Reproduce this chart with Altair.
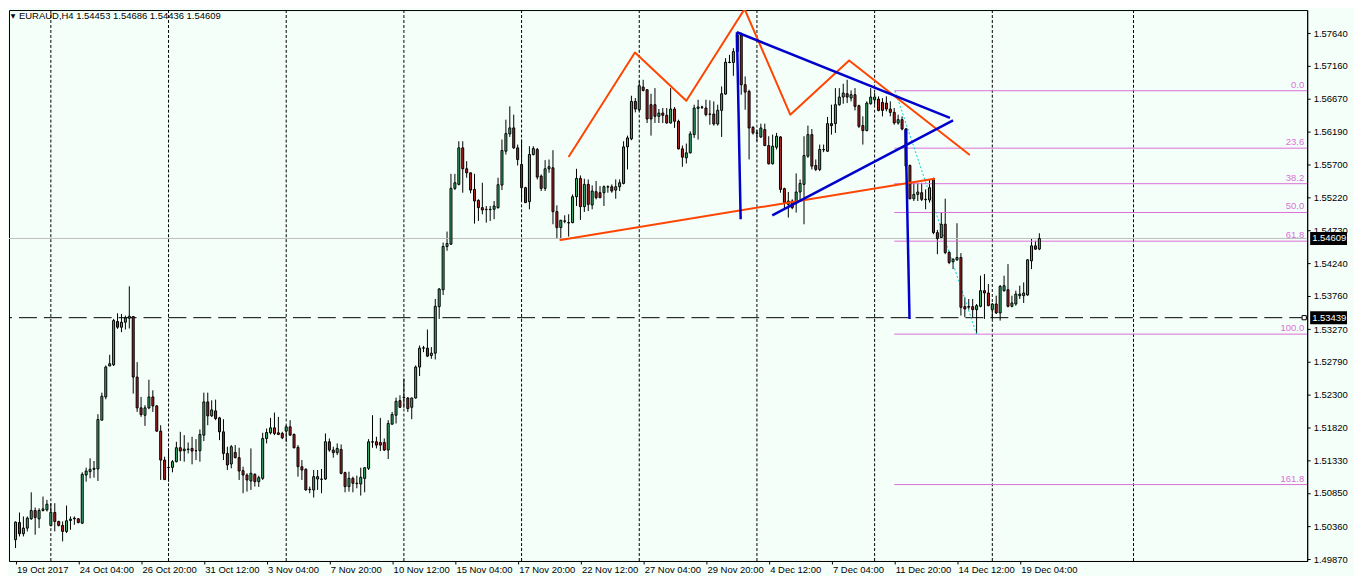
import json
import altair as alt
import pandas as pd

# ---------------- data ----------------
symbol_title = "EURAUD,H4  1.54453 1.54686 1.54436 1.54609"

opens = [
    1.50160, 1.50414, 1.50248, 1.50331, 1.50468, 1.50591, 1.50468, 1.50591, 1.50600, 1.50370,
    1.50561, 1.50429, 1.50370, 1.50282, 1.50444, 1.50468, 1.50468, 1.50404, 1.51115, 1.51164,
    1.51199, 1.51204, 1.51925, 1.52268, 1.52725, 1.52744, 1.53382, 1.53298, 1.53372, 1.53431,
    1.53455, 1.52562, 1.52107, 1.51998, 1.52107, 1.52268, 1.52136, 1.51763, 1.51336, 1.51223,
    1.51228, 1.51312, 1.51518, 1.51474, 1.51498, 1.51508, 1.51474, 1.51474, 1.51704, 1.52195,
    1.51989, 1.52062, 1.51959, 1.51753, 1.51434, 1.51278, 1.51449, 1.51371, 1.51179, 1.51115,
    1.51027, 1.51125, 1.51017, 1.51066, 1.51655, 1.51739, 1.51812, 1.51739, 1.51729, 1.51763,
    1.51827, 1.51714, 1.51523, 1.51238, 1.51199, 1.50904, 1.50895, 1.51056, 1.51056, 1.51056,
    1.51606, 1.51484, 1.51445, 1.51493, 1.51150, 1.50944, 1.51066, 1.50993, 1.50983, 1.51066,
    1.51214, 1.51606, 1.51606, 1.51596, 1.51596, 1.51484, 1.51866, 1.51998, 1.52214, 1.52258,
    1.52253, 1.52116, 1.52253, 1.52710, 1.52989, 1.52989, 1.52881, 1.52915, 1.53602, 1.53852,
    1.54490, 1.54525, 1.55349, 1.55408, 1.55947, 1.55638, 1.55579, 1.55334, 1.55172, 1.55064,
    1.55040, 1.55040, 1.55040, 1.55064, 1.55398, 1.55898, 1.56153, 1.56242, 1.55947, 1.55702,
    1.55359, 1.55153, 1.55849, 1.55923, 1.55530, 1.55349, 1.55638, 1.55653, 1.55005, 1.54770,
    1.54868, 1.54843, 1.54843, 1.55226, 1.55496, 1.55079, 1.55408, 1.55104, 1.55300, 1.55285,
    1.55285, 1.55373, 1.55373, 1.55324, 1.55373, 1.55422, 1.55962, 1.56080, 1.56634, 1.56511,
    1.56845, 1.56806, 1.56585, 1.56585, 1.56413, 1.56462, 1.56428, 1.56315, 1.56521, 1.56340,
    1.55933, 1.55800, 1.55874, 1.56143, 1.56531, 1.56551, 1.56536, 1.56447, 1.56447, 1.56300,
    1.56502, 1.56742, 1.57213, 1.57208, 1.57370, 1.57615, 1.56880, 1.56781, 1.56251, 1.56168,
    1.56109, 1.56217, 1.55982, 1.55712, 1.55957, 1.56109, 1.55344, 1.55113, 1.55162, 1.55147,
    1.55295, 1.55408, 1.55825, 1.56143, 1.55687, 1.55628, 1.55923, 1.55898, 1.56305, 1.56305,
    1.56585, 1.56698, 1.56747, 1.56683, 1.56732, 1.56570, 1.56276, 1.56202, 1.56599, 1.56658,
    1.56668, 1.56619, 1.56609, 1.56521, 1.56472, 1.56315, 1.56364, 1.56227, 1.55687, 1.55196,
    1.55260, 1.55285, 1.55187, 1.55177, 1.55481, 1.54696, 1.54623, 1.54819, 1.54402, 1.54265,
    1.54294, 1.54328, 1.53602, 1.53602, 1.53602, 1.53558, 1.53607, 1.53838, 1.53804, 1.53558,
    1.53641, 1.53509, 1.53838, 1.53852, 1.53607, 1.53641, 1.53764, 1.53764, 1.53774, 1.54279,
    1.54500, 1.54453,
]

highs = [
    1.50429, 1.50561, 1.50503, 1.50503, 1.50860, 1.50635, 1.50625, 1.50797, 1.50748, 1.50699,
    1.50699, 1.50439, 1.50429, 1.50664, 1.50503, 1.50503, 1.50478, 1.51155, 1.51223, 1.51361,
    1.51322, 1.52013, 1.52332, 1.52734, 1.52891, 1.53421, 1.53504, 1.53494, 1.53470, 1.53902,
    1.53460, 1.52783, 1.52268, 1.52146, 1.52523, 1.52366, 1.52146, 1.51851, 1.51386, 1.51508,
    1.51336, 1.51606, 1.51753, 1.51704, 1.51596, 1.51680, 1.51645, 1.51788, 1.52332, 1.52332,
    1.52219, 1.52229, 1.51974, 1.51940, 1.51533, 1.51557, 1.51557, 1.51518, 1.51238, 1.51140,
    1.51508, 1.51140, 1.51106, 1.51739, 1.51802, 1.51959, 1.52038, 1.51974, 1.51753, 1.51851,
    1.51925, 1.51729, 1.51557, 1.51336, 1.51214, 1.50944, 1.51189, 1.51189, 1.51204, 1.51729,
    1.51655, 1.51533, 1.51582, 1.51567, 1.51164, 1.51164, 1.51091, 1.51106, 1.51223, 1.51228,
    1.51645, 1.51998, 1.51680, 1.51959, 1.51655, 1.51925, 1.52047, 1.52258, 1.52293, 1.52538,
    1.52263, 1.52258, 1.52734, 1.53028, 1.53023, 1.53264, 1.53004, 1.53715, 1.53877, 1.54549,
    1.54711, 1.55564, 1.55564, 1.56045, 1.56045, 1.55751, 1.55579, 1.55564, 1.55187, 1.55432,
    1.55089, 1.55089, 1.55162, 1.55506, 1.56070, 1.56364, 1.56560, 1.56438, 1.55996, 1.56070,
    1.55373, 1.55972, 1.55972, 1.55947, 1.55555, 1.55766, 1.55775, 1.55913, 1.55099, 1.54883,
    1.54951, 1.54966, 1.55260, 1.55638, 1.55540, 1.55491, 1.55481, 1.55393, 1.55457, 1.55383,
    1.55393, 1.55393, 1.55408, 1.55481, 1.55481, 1.56045, 1.56128, 1.56717, 1.56683, 1.56938,
    1.56953, 1.56806, 1.56747, 1.56830, 1.56521, 1.56536, 1.56536, 1.56830, 1.56551, 1.56364,
    1.55982, 1.56011, 1.56192, 1.56585, 1.56658, 1.56570, 1.56658, 1.56649, 1.56634, 1.56585,
    1.56855, 1.57272, 1.57321, 1.57419, 1.57664, 1.57649, 1.57002, 1.56806, 1.56266, 1.56217,
    1.56305, 1.56305, 1.56119, 1.56143, 1.56168, 1.56119, 1.55359, 1.55295, 1.55187, 1.55570,
    1.55481, 1.56119, 1.56276, 1.56226, 1.55776, 1.55996, 1.55996, 1.56404, 1.56585, 1.56830,
    1.56830, 1.56894, 1.56953, 1.56796, 1.56830, 1.56585, 1.56413, 1.56634, 1.56830, 1.56757,
    1.56708, 1.56683, 1.56708, 1.56634, 1.56536, 1.56438, 1.56413, 1.56241, 1.55702, 1.55432,
    1.55432, 1.55432, 1.55334, 1.55481, 1.55506, 1.54736, 1.54991, 1.55196, 1.54426, 1.54314,
    1.54834, 1.54392, 1.53739, 1.53715, 1.53715, 1.53641, 1.54059, 1.54083, 1.53936, 1.53656,
    1.53764, 1.53921, 1.54059, 1.54230, 1.53764, 1.53838, 1.53911, 1.53960, 1.54304, 1.54608,
    1.54574, 1.54686,
]

lows = [
    1.50036, 1.50208, 1.50208, 1.50282, 1.50454, 1.50233, 1.50331, 1.50576, 1.50576, 1.50355,
    1.50282, 1.50355, 1.50134, 1.50257, 1.50306, 1.50380, 1.50400, 1.50390, 1.51017, 1.51066,
    1.51076, 1.51027, 1.51925, 1.52234, 1.52725, 1.52725, 1.53274, 1.53225, 1.53264, 1.53279,
    1.52317, 1.52047, 1.51974, 1.51841, 1.52087, 1.52047, 1.51753, 1.51042, 1.51042, 1.51017,
    1.51155, 1.51302, 1.51322, 1.51312, 1.51434, 1.51273, 1.51336, 1.51312, 1.51616, 1.51851,
    1.51974, 1.51925, 1.51630, 1.51336, 1.51189, 1.51214, 1.51361, 1.51042, 1.50846, 1.50870,
    1.50895, 1.50944, 1.50939, 1.51042, 1.51582, 1.51714, 1.51704, 1.51704, 1.51645, 1.51606,
    1.51694, 1.51508, 1.51091, 1.51042, 1.50885, 1.50846, 1.50782, 1.50895, 1.50846, 1.51042,
    1.51459, 1.51371, 1.51410, 1.51125, 1.50860, 1.50870, 1.50860, 1.50919, 1.50811, 1.50860,
    1.51189, 1.51518, 1.51508, 1.51469, 1.51469, 1.51351, 1.51861, 1.51876, 1.52107, 1.52107,
    1.52047, 1.51940, 1.52244, 1.52577, 1.52930, 1.52857, 1.52832, 1.52822, 1.53421, 1.53774,
    1.54427, 1.54515, 1.55324, 1.55393, 1.55285, 1.55506, 1.55275, 1.54829, 1.54868, 1.54966,
    1.54843, 1.54868, 1.54893, 1.55050, 1.55324, 1.55849, 1.56109, 1.55932, 1.55687, 1.55162,
    1.55138, 1.55040, 1.55834, 1.55481, 1.55310, 1.55310, 1.55579, 1.54819, 1.54608, 1.54584,
    1.54834, 1.54637, 1.54834, 1.55089, 1.54883, 1.55001, 1.55015, 1.55040, 1.55187, 1.55206,
    1.55089, 1.55285, 1.55285, 1.55196, 1.55310, 1.55408, 1.55628, 1.56060, 1.56472, 1.56487,
    1.56781, 1.56315, 1.56128, 1.56315, 1.56315, 1.56315, 1.56305, 1.56305, 1.56242, 1.55923,
    1.55668, 1.55717, 1.55864, 1.56094, 1.56070, 1.56521, 1.56413, 1.56290, 1.56276, 1.56276,
    1.56109, 1.56732, 1.57198, 1.57012, 1.57355, 1.56732, 1.56511, 1.55776, 1.56143, 1.56045,
    1.56094, 1.55972, 1.55702, 1.55702, 1.55923, 1.55285, 1.55040, 1.54918, 1.55040, 1.54991,
    1.55162, 1.54819, 1.55800, 1.55628, 1.55604, 1.55604, 1.55884, 1.55889, 1.56143, 1.56168,
    1.56570, 1.56599, 1.56609, 1.56634, 1.56501, 1.56241, 1.55996, 1.56192, 1.56585, 1.56585,
    1.56487, 1.56413, 1.56487, 1.56413, 1.56290, 1.56290, 1.56207, 1.55628, 1.55187, 1.55162,
    1.55162, 1.55162, 1.55040, 1.55138, 1.54672, 1.54377, 1.54598, 1.54377, 1.54230, 1.54157,
    1.54279, 1.53470, 1.53445, 1.53558, 1.53445, 1.53200, 1.53592, 1.53421, 1.53607, 1.53421,
    1.53494, 1.53396, 1.53823, 1.53592, 1.53592, 1.53617, 1.53715, 1.53656, 1.53764, 1.54157,
    1.54441, 1.54436,
]

closes = [
    1.50419, 1.50248, 1.50331, 1.50478, 1.50591, 1.50488, 1.50591, 1.50615, 1.50684, 1.50566,
    1.50429, 1.50370, 1.50282, 1.50439, 1.50463, 1.50478, 1.50414, 1.51125, 1.51174, 1.51199,
    1.51214, 1.51935, 1.52278, 1.52710, 1.52759, 1.53396, 1.53298, 1.53372, 1.53436, 1.53460,
    1.52562, 1.52107, 1.52008, 1.52107, 1.52268, 1.52136, 1.51763, 1.51336, 1.51047, 1.51228,
    1.51312, 1.51518, 1.51469, 1.51498, 1.51493, 1.51469, 1.51474, 1.51714, 1.52195, 1.51989,
    1.52077, 1.51949, 1.51753, 1.51434, 1.51263, 1.51533, 1.51371, 1.51174, 1.51115, 1.51042,
    1.51140, 1.51017, 1.51076, 1.51655, 1.51743, 1.51812, 1.51729, 1.51714, 1.51665, 1.51827,
    1.51704, 1.51518, 1.51238, 1.51189, 1.50895, 1.50899, 1.51091, 1.51091, 1.51051, 1.51606,
    1.51484, 1.51445, 1.51508, 1.51140, 1.50944, 1.51066, 1.50993, 1.50988, 1.51081, 1.51223,
    1.51606, 1.51601, 1.51557, 1.51557, 1.51484, 1.51876, 1.52008, 1.52204, 1.52116, 1.52263,
    1.52097, 1.52253, 1.52710, 1.52989, 1.52994, 1.52871, 1.52915, 1.53607, 1.53862, 1.54490,
    1.54534, 1.55349, 1.55432, 1.55947, 1.55638, 1.55579, 1.55324, 1.55162, 1.55064, 1.55030,
    1.55035, 1.55035, 1.55089, 1.55403, 1.55908, 1.56158, 1.56242, 1.55947, 1.55775, 1.55359,
    1.55138, 1.55849, 1.55937, 1.55516, 1.55349, 1.55638, 1.55668, 1.55005, 1.54770, 1.54878,
    1.54864, 1.54838, 1.55226, 1.55496, 1.55079, 1.55408, 1.55113, 1.55310, 1.55211, 1.55211,
    1.55373, 1.55368, 1.55310, 1.55373, 1.55432, 1.55962, 1.56094, 1.56634, 1.56521, 1.56865,
    1.56796, 1.56374, 1.56374, 1.56413, 1.56462, 1.56428, 1.56315, 1.56521, 1.56340, 1.55933,
    1.55810, 1.55874, 1.56153, 1.56536, 1.56551, 1.56546, 1.56438, 1.56443, 1.56300, 1.56502,
    1.56747, 1.57213, 1.57208, 1.57370, 1.57615, 1.56880, 1.56771, 1.56241, 1.56168, 1.56163,
    1.56241, 1.55982, 1.55712, 1.55972, 1.56119, 1.55334, 1.55138, 1.55162, 1.55064, 1.55295,
    1.55422, 1.55834, 1.56143, 1.55677, 1.55628, 1.55923, 1.55918, 1.56305, 1.56276, 1.56585,
    1.56698, 1.56757, 1.56698, 1.56732, 1.56560, 1.56266, 1.56202, 1.56609, 1.56698, 1.56698,
    1.56501, 1.56501, 1.56521, 1.56472, 1.56315, 1.56364, 1.56226, 1.55677, 1.55196, 1.55260,
    1.55295, 1.55187, 1.55182, 1.55359, 1.54696, 1.54608, 1.54819, 1.54402, 1.54255, 1.54304,
    1.54328, 1.53592, 1.53568, 1.53597, 1.53558, 1.53617, 1.53838, 1.53804, 1.53617, 1.53641,
    1.53509, 1.53901, 1.53911, 1.53607, 1.53656, 1.53788, 1.53788, 1.53804, 1.54294, 1.54500,
    1.54451, 1.54609,
]

date_labels = [
    "19 Oct 2017", "24 Oct 04:00", "26 Oct 20:00", "31 Oct 12:00", "3 Nov 04:00",
    "7 Nov 20:00", "10 Nov 12:00", "15 Nov 04:00", "17 Nov 20:00", "22 Nov 12:00",
    "27 Nov 04:00", "29 Nov 20:00", "4 Dec 12:00", "7 Dec 04:00", "11 Dec 20:00",
    "14 Dec 12:00", "19 Dec 04:00",
]
bars_per_label = 16

price_ticks = [1.49870, 1.50360, 1.50850, 1.51330, 1.51820, 1.52300, 1.52790, 1.53270,
               1.53760, 1.54240, 1.54730, 1.55220, 1.55700, 1.56190, 1.56670, 1.57160, 1.57640]

separator_bars = [9, 39, 69, 99, 129, 159, 189, 219, 249, 285]

fib_names = ["0.0", "23.6", "38.2", "50.0", "61.8", "100.0", "161.8"]
fib_prices = [1.56791, 1.55943, 1.55418, 1.54993, 1.54569, 1.53196, 1.50974]
fib_start_bar = 224

bid_price = 1.54609
hline_price = 1.53439

zigzag_bars = [141.1, 157.9, 171.0, 185.85, 197.5, 212.5, 243.1]
zigzag_prices = [1.55824, 1.57355, 1.56644, 1.57998, 1.56438, 1.57237, 1.55849]
orange_base_bars = [138.9, 234.2]
orange_base_prices = [1.54588, 1.55491]

blue_v1_bars = [183.9, 184.85]
blue_v1_prices = [1.57655, 1.54892]
blue_upper_bars = [183.9, 238.2]
blue_upper_prices = [1.57655, 1.56389]
blue_lower_bars = [192.9, 239.0]
blue_lower_prices = [1.54951, 1.56354]
blue_v2_bars = [226.9, 227.9]
blue_v2_prices = [1.56217, 1.53421]

cyan_bars = [224.2, 245.0]
cyan_prices = [1.56791, 1.53196]

# ---------------- styling ----------------
FONT = "Liberation Sans"
FS = 9.5
BG = "#F5FFFA"
GREEN = "#3CB371"
RED = "#B22222"
ORCHID = "#DA70D6"
ORANGE = "#FF4500"
BLUE = "#0000CD"
W, H = 1303, 553

xs = alt.Scale(domain=[-0.4, 328.0], nice=False, zero=False)
ys = alt.Scale(domain=[1.49845, 1.57983], nice=False, zero=False)

n = len(opens)
candles = pd.DataFrame({"bar": list(range(n)), "open": opens, "high": highs,
                        "low": lows, "close": closes})
candles["dir"] = ["up" if c >= o else "down" for o, c in zip(opens, closes)]

label_expr = json.dumps(date_labels) + "[round(datum.value / %d)]" % bars_per_label
x_axis = alt.Axis(values=[i * bars_per_label for i in range(len(date_labels))],
                  labelExpr=label_expr, title=None, grid=False, orient="bottom",
                  tickSize=3, tickColor="black", domainColor="black",
                  labelAlign="left", labelBaseline="top", labelPadding=1, labelOffset=1,
                  labelFont=FONT, labelFontSize=FS, labelColor="black",
                  labelOverlap=False, labelBound=False, labelFlush=False)
y_axis = alt.Axis(values=price_ticks, format=".5f", orient="right", title=None, grid=False,
                  tickSize=3, tickColor="black", domainColor="black", labelPadding=3,
                  labelFont=FONT, labelFontSize=FS, labelColor="black",
                  labelOverlap=False, labelBound=False, labelFlush=False)


def xq(field):
    return alt.X(field, type="quantitative", scale=xs, axis=x_axis)


def yq(field):
    return alt.Y(field, type="quantitative", scale=ys, axis=y_axis)


seps = alt.Chart(pd.DataFrame({"bar": separator_bars})).mark_rule(
    color="black", strokeDash=[3, 2], strokeWidth=1).encode(x=xq("bar"))

fib_df = pd.DataFrame({"name": fib_names, "price": fib_prices,
                       "start": [fib_start_bar] * len(fib_names)})
fib_lines = alt.Chart(fib_df).mark_rule(color=ORCHID, strokeWidth=1).encode(
    x=xq("start"), x2=alt.value(W), y=yq("price"))
fib_text = alt.Chart(fib_df).mark_text(
    align="right", baseline="bottom", dy=-1, font=FONT, fontSize=FS, color=ORCHID).encode(
    x=alt.value(W - 3), y=yq("price"), text="name:N")

bid_line = alt.Chart(pd.DataFrame({"price": [bid_price]})).mark_rule(
    color="#C0C0C0", strokeWidth=1).encode(y=yq("price"))
h_line = alt.Chart(pd.DataFrame({"price": [hline_price]})).mark_rule(
    color="black", strokeWidth=1, strokeDash=[18, 7]).encode(y=yq("price"))
handle = alt.Chart(pd.DataFrame({"price": [hline_price]})).mark_square(
    size=18, filled=True, fill="white", stroke="black", strokeWidth=1, opacity=1).encode(
    x=alt.value(W - 3), y=yq("price"))


def seg_rows(name, bars, prices):
    return [{"seg": name, "ord": k, "bar": b, "price": p}
            for k, (b, p) in enumerate(zip(bars, prices))]


orange_df = pd.DataFrame(seg_rows("zigzag", zigzag_bars, zigzag_prices)
                         + seg_rows("base", orange_base_bars, orange_base_prices))
blue_df = pd.DataFrame(seg_rows("v1", blue_v1_bars, blue_v1_prices)
                       + seg_rows("upper", blue_upper_bars, blue_upper_prices)
                       + seg_rows("lower", blue_lower_bars, blue_lower_prices)
                       + seg_rows("v2", blue_v2_bars, blue_v2_prices))
cyan_df = pd.DataFrame(seg_rows("fib", cyan_bars, cyan_prices))

cyan = alt.Chart(cyan_df).mark_line(color="#00CED1", strokeWidth=1, strokeDash=[2, 2],
                                    clip=True).encode(
    x=xq("bar"), y=yq("price"), detail="seg:N", order="ord:Q")

wicks = alt.Chart(candles).mark_rule(color="black", strokeWidth=1).encode(
    x=xq("bar"), y=yq("low"), y2="high:Q")
bodies = alt.Chart(candles).mark_bar(width=2, stroke="black", strokeWidth=1).encode(
    x=xq("bar"), y=yq("open"), y2="close:Q",
    color=alt.Color("dir:N", scale=alt.Scale(domain=["up", "down"], range=[GREEN, RED]),
                    legend=None))

orange = alt.Chart(orange_df).mark_line(color=ORANGE, strokeWidth=2, strokeJoin="round",
                                        strokeCap="round", clip=True).encode(
    x=xq("bar"), y=yq("price"), detail="seg:N", order="ord:Q")
blue = alt.Chart(blue_df).mark_line(color=BLUE, strokeWidth=2.5, strokeJoin="round",
                                    clip=True).encode(
    x=xq("bar"), y=yq("price"), detail="seg:N", order="ord:Q")

box_df = pd.DataFrame({"price": [bid_price, hline_price]})
boxes = alt.Chart(box_df).mark_rule(color="black", strokeWidth=13).encode(
    x=alt.value(W + 3), x2=alt.value(W + 40), y=yq("price"))
box_text = alt.Chart(box_df).mark_text(
    align="left", baseline="middle", font=FONT, fontSize=FS, color="white").encode(
    x=alt.value(W + 5), y=yq("price"), text=alt.Text("price:Q", format=".5f"))

title_df = pd.DataFrame({"t": [symbol_title]})
title_text = alt.Chart(title_df).mark_text(
    align="left", baseline="middle", font=FONT, fontSize=FS, color="black").encode(
    x=alt.value(10), y=alt.value(6), text="t:N")
triangle = alt.Chart(pd.DataFrame({"t": ["\u25BC"]})).mark_text(
    align="center", baseline="middle", font="DejaVu Sans", fontSize=6, color="black").encode(
    x=alt.value(4), y=alt.value(6), text="t:N")

chart = alt.layer(
    wicks, seps, fib_lines, bid_line, h_line, cyan, bodies, orange, blue,
    fib_text, handle, boxes, box_text, title_text, triangle,
).properties(
    width=W, height=H, padding=0, background=BG,
).configure_view(
    stroke="black", strokeWidth=1, fill=BG,
)

chart.save("out.html", embed_options={"renderer": "svg", "actions": False})
